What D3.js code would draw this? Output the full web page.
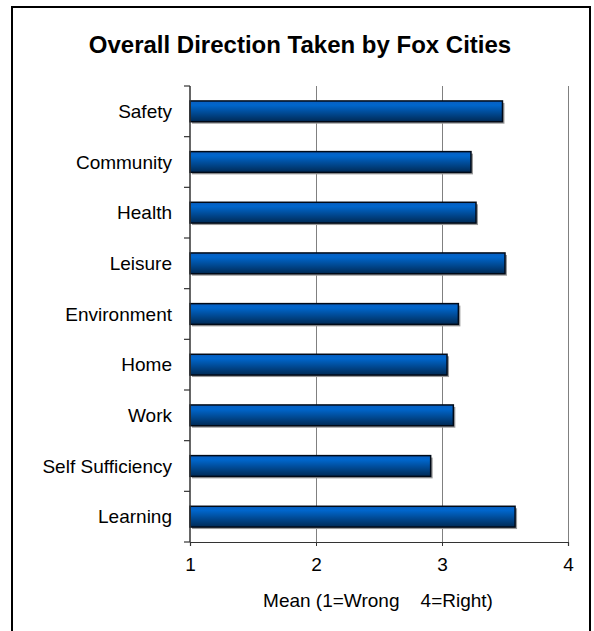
<!DOCTYPE html>
<html>
<head>
<meta charset="utf-8">
<script src="https://cdn.jsdelivr.net/npm/d3@7"></script>
<style>
html,body{margin:0;padding:0;background:#fff;}
svg{display:block;font-family:Arial,"Liberation Sans",sans-serif;}
</style>
</head>
<body>
<svg id="chart" width="594" height="631"></svg>
<script>
const categories = ["Safety","Community","Health ","Leisure","Environment","Home","Work","Self Sufficiency","Learning"];
const values = [3.48,3.23,3.27,3.50,3.13,3.04,3.09,2.91,3.58];
const xTicks = [1,2,3,4];
const title = "Overall Direction Taken by Fox Cities";
const xTitle = "Mean (1=Wrong\u00a0\u00a0\u00a0\u00a04=Right)";

const svg = d3.select("#chart");
const plot = {left:190, right:568, top:86, bottom:542};
const FONT = "Arial, 'Liberation Sans', sans-serif";

// frame
svg.append("rect").attr("x",12).attr("y",7).attr("width",578).attr("height",640)
  .attr("fill","none").attr("stroke","#000").attr("stroke-width",2);

const defs = svg.append("defs");
const grad = defs.append("linearGradient").attr("id","barGrad").attr("x1",0).attr("y1",0).attr("x2",0).attr("y2",1);
grad.append("stop").attr("offset","0%").attr("stop-color","#0a5fc0");
grad.append("stop").attr("offset","20%").attr("stop-color","#0066cc");
grad.append("stop").attr("offset","100%").attr("stop-color","#002a55");

const x = d3.scaleLinear().domain([1,4]).range([plot.left, plot.right]);
const y = d3.scaleBand().domain(categories).range([plot.top, plot.bottom]).paddingInner(0.59).paddingOuter(0.295);

// gridlines
svg.append("g").selectAll("line").data(xTicks.slice(1)).join("line")
  .attr("x1",d=>Math.round(x(d))+0.5).attr("x2",d=>Math.round(x(d))+0.5)
  .attr("y1",plot.top).attr("y2",plot.bottom)
  .attr("stroke","#808080").attr("stroke-width",1);

// bars: shadow then bar
const bars = svg.append("g");
bars.selectAll("rect.shadow").data(categories).join("rect").attr("class","shadow")
  .attr("x",x(1)+2).attr("y",d=>y(d)+2)
  .attr("width",(d,i)=>x(values[i])-x(1)).attr("height",y.bandwidth())
  .attr("fill","#9a9a9a");
bars.selectAll("rect.bar").data(categories).join("rect").attr("class","bar")
  .attr("x",x(1)).attr("y",d=>y(d))
  .attr("width",(d,i)=>x(values[i])-x(1)).attr("height",y.bandwidth())
  .attr("fill","url(#barGrad)").attr("stroke","#000a18").attr("stroke-width",1.5);

// x axis
const xAxis = d3.axisBottom(x).tickValues(xTicks).tickSize(4).tickPadding(12).tickFormat(d3.format("d"));
const gx = svg.append("g").attr("transform",`translate(0,${plot.bottom})`).call(xAxis);
gx.attr("font-size",null).attr("font-family",null);
gx.select(".domain").attr("stroke","#333").attr("stroke-width",1.2);
gx.selectAll(".tick line").attr("stroke","#333");
gx.selectAll("text").attr("font-size","19px").attr("fill","#000").attr("font-family",FONT);

// y axis with ticks at band boundaries
const gy = svg.append("g").attr("transform",`translate(${plot.left},0)`);
gy.append("line").attr("x1",0).attr("x2",0).attr("y1",plot.top).attr("y2",plot.bottom).attr("stroke","#333").attr("stroke-width",1.5);
const boundaries = d3.range(categories.length+1).map(i=>plot.top + i*(plot.bottom-plot.top)/categories.length);
gy.selectAll("line.tk").data(boundaries).join("line").attr("class","tk")
  .attr("x1",-6).attr("x2",0).attr("y1",d=>d).attr("y2",d=>d).attr("stroke","#333").attr("stroke-width",1.2);
gy.selectAll("text").data(categories).join("text")
  .attr("x",-18).attr("y",d=>y(d)+y.bandwidth()/2).attr("dy","0.35em")
  .attr("text-anchor","end").attr("font-size","19px").attr("fill","#000").text(d=>d);

// title
svg.append("text").attr("x",300).attr("y",53).attr("text-anchor","middle")
  .attr("font-size","24px").attr("font-weight","bold").attr("fill","#000").text(title);

// x title
svg.append("text").attr("x",378).attr("y",607).attr("text-anchor","middle")
  .attr("font-size","19px").attr("fill","#000").text(xTitle);
</script>
</body>
</html>
